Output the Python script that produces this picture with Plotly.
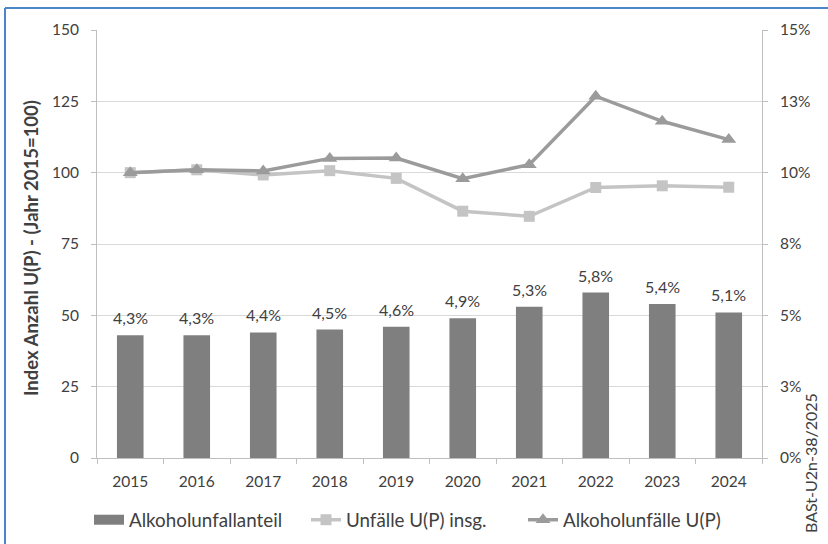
import plotly.graph_objects as go

# Years and series
years = ["2015", "2016", "2017", "2018", "2019", "2020", "2021", "2022", "2023", "2024"]
alkohol_anteil = [4.3, 4.3, 4.4, 4.5, 4.6, 4.9, 5.3, 5.8, 5.4, 5.1]          # % (right axis)
unfaelle_insg = [100, 101, 99.2, 100.7, 98.0, 86.5, 84.7, 94.8, 95.4, 94.9]    # index 2015=100
alkohol_unfaelle = [100, 101, 100.6, 105.0, 105.1, 97.9, 102.8, 126.8, 118.0, 111.6]

left_ticks = [0, 25, 50, 75, 100, 125, 150]
right_ticks = [0, 2.5, 5, 7.5, 10, 12.5, 15]
right_ticktext = ["0%", "3%", "5%", "8%", "10%", "13%", "15%"]

FONT = "Lato, 'Open Sans', sans-serif"
TXT = "#404040"
BAR = "#7f7f7f"
W, H = 828, 544
ML, MR, MT, MB = 97, 66, 30, 86
PW, PH = W - ML - MR, H - MT - MB


def px(x):
    return (x - ML) / PW


def py(y):
    return (H - MB - y) / PH


fig = go.Figure()

# share of alcohol accidents, drawn on the percent axis
fig.add_trace(go.Bar(
    x=years, y=alkohol_anteil, yaxis="y2", name="Alkoholunfallanteil",
    marker=dict(color=BAR, line=dict(width=0)), width=0.4,
    showlegend=False, legendgroup="anteil",
))
# legend entry for the bars, shown as a wide block
fig.add_trace(go.Scatter(
    x=[years[0]], y=[None], mode="lines", name="Alkoholunfallanteil",
    line=dict(color=BAR, width=12), legendgroup="anteil", showlegend=True,
    hoverinfo="skip",
))

fig.add_trace(go.Scatter(
    x=years, y=unfaelle_insg, name="Unfälle U(P) insg.", mode="lines+markers",
    line=dict(color="#c4c4c4", width=3.5),
    marker=dict(symbol="square", size=11, color="#c4c4c4"),
))

fig.add_trace(go.Scatter(
    x=years, y=alkohol_unfaelle, name="Alkoholunfälle U(P)", mode="lines+markers",
    line=dict(color="#9b9b9b", width=3.5),
    marker=dict(symbol="triangle-up", size=13, color="#9b9b9b"),
))

# value labels above the bars (x given as category index)
bar_labels = [
    dict(x=i, y=v, xref="x", yref="y2", text=f"{v:.1f}%".replace(".", ","),
         showarrow=False, yanchor="bottom", yshift=6,
         font=dict(size=16, color=TXT, family=FONT))
    for i, v in enumerate(alkohol_anteil)
]

fig.update_layout(
    width=W, height=H,
    margin=dict(l=ML, r=MR, t=MT, b=MB, autoexpand=False),
    paper_bgcolor="white", plot_bgcolor="white",
    font=dict(family=FONT, size=15.5, color=TXT),
    showlegend=True,
    legend=dict(orientation="h", xref="container", yref="container",
                x=89 / W, xanchor="left", y=(H - 520) / H, yanchor="middle",
                entrywidth=172, font=dict(size=18.8, color=TXT), traceorder="normal",
                bgcolor="rgba(0,0,0,0)"),
    xaxis=dict(
        type="category", categoryorder="array", categoryarray=years, range=[-0.5, 9.5],
        showgrid=False, showline=True, linecolor="#bfbfbf", linewidth=1,
        ticks="outside", tickson="boundaries", ticklen=5, tickcolor="#bfbfbf",
        tickangle=0, tickfont=dict(size=15.5, color=TXT), ticklabelstandoff=9,
    ),
    yaxis=dict(
        range=[0, 150], tickvals=left_ticks, showgrid=True, gridcolor="#d9d9d9", gridwidth=1,
        showline=True, linecolor="#bfbfbf", ticks="outside", ticklen=5, tickcolor="#bfbfbf",
        zeroline=False, tickfont=dict(size=15.5, color=TXT), ticklabelstandoff=9,
    ),
    yaxis2=dict(
        range=[0, 15], overlaying="y", side="right", tickvals=right_ticks, ticktext=right_ticktext,
        showgrid=False, showline=True, linecolor="#bfbfbf", ticks="outside", ticklen=5,
        tickcolor="#bfbfbf", zeroline=False, tickfont=dict(size=15.5, color=TXT),
        ticklabelstandoff=9,
    ),
    shapes=[
        dict(type="line", xref="paper", yref="paper", x0=px(5), x1=px(828), y0=py(8), y1=py(8),
             line=dict(color="#4a86c8", width=2)),
        dict(type="line", xref="paper", yref="paper", x0=px(5), x1=px(5), y0=py(8), y1=py(544),
             line=dict(color="#4a86c8", width=2)),
    ],
    annotations=bar_labels + [
        dict(text="<b>Index Anzahl U(P) - (Jahr 2015=100)</b>", xref="paper", yref="paper",
             x=px(31), y=py(248), xanchor="center", yanchor="middle", textangle=-90,
             showarrow=False, font=dict(size=18.5, color=TXT)),
        dict(text="BASt-U2n-38/2025", xref="paper", yref="paper", x=px(810), y=py(463),
             xanchor="center", yanchor="middle", textangle=-90, showarrow=False,
             font=dict(size=16, color=TXT)),
    ],
)

fig.write_html("out.html")
